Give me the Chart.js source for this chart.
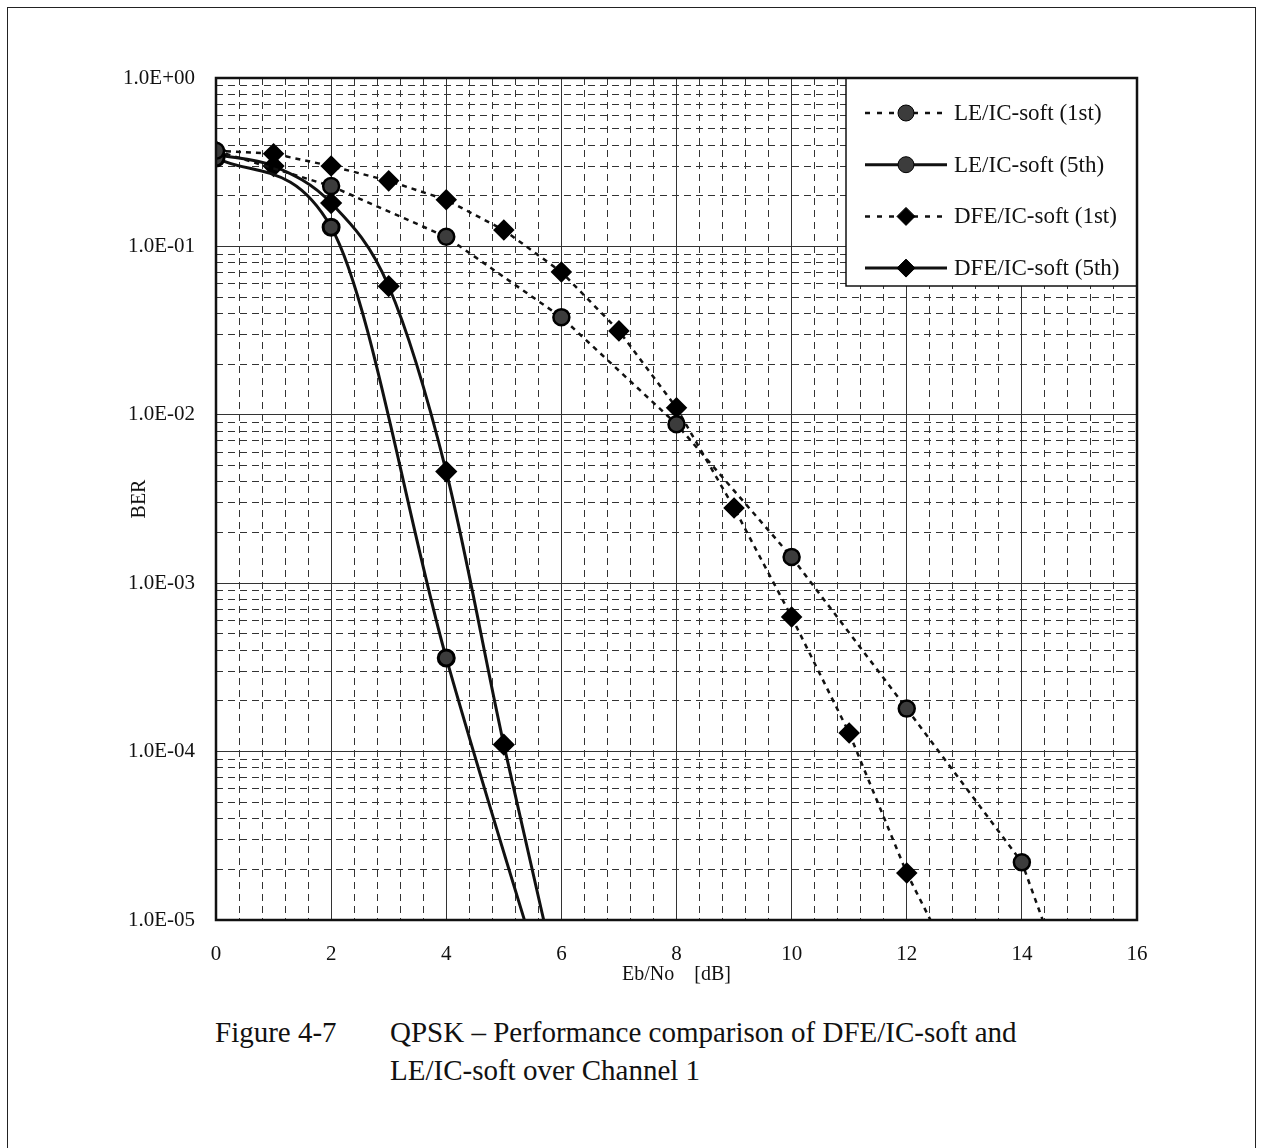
<!DOCTYPE html>
<html>
<head>
<meta charset="utf-8">
<script src="https://cdn.jsdelivr.net/npm/chart.js@4/dist/chart.umd.min.js"></script>
<style>
  html, body { margin: 0; padding: 0; background: #fff; }
  body { width: 1261px; height: 1148px; position: relative; overflow: hidden; font-family: "Liberation Serif", "Times New Roman", serif; }
  #frame { position: absolute; left: 7px; top: 7px; width: 1247px; height: 1300px; border: 1.5px solid #222; }
  #wrap { position: absolute; left: 0; top: 0; width: 1261px; height: 1000px; }
  .cap { position: absolute; font-size: 29px; line-height: 38px; color: #111; }
</style>
</head>
<body>
<div id="frame"></div>
<div id="wrap"><canvas id="berChart"></canvas></div>
<div class="cap" style="left:215px; top:1013px;">Figure 4-7</div>
<div class="cap" style="left:390px; top:1013px; width:780px;">QPSK – Performance comparison of DFE/IC-soft and<br>LE/IC-soft over Channel 1</div>
<script>
// values (Eb/No in dB, BER)
var xLE1 = [0, 2, 4, 6, 8, 10, 12, 14, 16];
var le1st = [0.37, 0.228, 0.114, 0.038, 0.0088, 1.43e-3, 1.8e-4, 2.2e-5, 2.8e-7];
var xLE5 = [0, 2, 4, 6];
var le5th = [0.335, 0.13, 3.6e-4, 1.9e-6];
var xDFE1 = [0, 1, 2, 3, 4, 5, 6, 7, 8, 9, 10, 11, 12, 13];
var dfe1st = [0.37, 0.355, 0.30, 0.245, 0.189, 0.125, 0.0705, 0.0315, 0.011, 0.0028, 6.3e-4, 1.29e-4, 1.9e-5, 4e-6];
var xDFE5 = [0, 1, 2, 3, 4, 5, 6];
var dfe5th = [0.35, 0.30, 0.181, 0.058, 4.6e-3, 1.1e-4, 3.5e-6];

var seriesLabels = ['LE/IC-soft (1st)', 'LE/IC-soft (5th)', 'DFE/IC-soft (1st)', 'DFE/IC-soft (5th)'];

var xMajorTicks = [0, 2, 4, 6, 8, 10, 12, 14, 16];
var xMinorStep = 0.4;
var yMajorTicks = [1e-5, 1e-4, 1e-3, 1e-2, 1e-1, 1];
var yTickLabels = ['1.0E-05', '1.0E-04', '1.0E-03', '1.0E-02', '1.0E-01', '1.0E+00'];
var yMinorMantissa = [2, 3, 4, 5, 6, 7, 8, 9];

var FONT = '"Liberation Serif", "Times New Roman", serif';

function pts(xs, ys) {
    return xs.map(function(x, i) { return {x: x, y: ys[i]}; });
}

var xMinorTicks = [];
for (var i = 1; i * xMinorStep < 16; i++) xMinorTicks.push(+(i * xMinorStep).toFixed(2));
var yMinorTicks = [];
yMajorTicks.slice(0, -1).forEach(function(d) {
    yMinorMantissa.forEach(function(m) { yMinorTicks.push(m * d); });
});

// legend box drawn inside the plot, top right
var legendBox = {
    id: 'legendBox',
    afterDatasetsDraw: function(chart) {
        var ctx = chart.ctx, a = chart.chartArea;
        var w = 291, h = 208, x = a.right - w, y = a.top;
        ctx.save();
        ctx.fillStyle = '#fff';
        ctx.fillRect(x, y, w, h);
        ctx.strokeStyle = '#111';
        ctx.lineWidth = 1.5;
        ctx.strokeRect(x, y, w, h);
        chart.data.datasets.forEach(function(ds, i) {
            var cy = y + 35 + i * 51.7;
            ctx.strokeStyle = ds.borderColor;
            ctx.lineWidth = ds.borderWidth;
            ctx.setLineDash(ds.borderDash.length ? [5, 7] : []);
            ctx.beginPath();
            ctx.moveTo(x + 19, cy);
            ctx.lineTo(x + 101, cy);
            ctx.stroke();
            ctx.setLineDash([]);
            var mx = x + 60, r = ds.pointRadius;
            ctx.fillStyle = ds.pointBackgroundColor;
            ctx.strokeStyle = ds.pointBorderColor;
            ctx.lineWidth = 1;
            ctx.beginPath();
            if (ds.pointStyle === 'circle') {
                ctx.arc(mx, cy, r, 0, Math.PI * 2);
            } else {
                ctx.moveTo(mx, cy - r);
                ctx.lineTo(mx + r, cy);
                ctx.lineTo(mx, cy + r);
                ctx.lineTo(mx - r, cy);
                ctx.closePath();
            }
            ctx.fill();
            ctx.stroke();
            ctx.fillStyle = '#111';
            ctx.font = '23px ' + FONT;
            ctx.textBaseline = 'middle';
            ctx.textAlign = 'left';
            ctx.fillText(ds.label, x + 108, cy + 1);
        });
        ctx.restore();
    },
    afterDraw: function(chart) {
        var ctx = chart.ctx, a = chart.chartArea;
        ctx.save();
        ctx.strokeStyle = '#111';
        ctx.lineWidth = 2.5;
        ctx.strokeRect(a.left, a.top, a.right - a.left, a.bottom - a.top);
        ctx.restore();
    }
};

function setTicks(list) {
    return function(scale) {
        scale.ticks = list.map(function(v) { return {value: v}; });
    };
}

document.addEventListener('DOMContentLoaded', function() {
    var ctx = document.getElementById('berChart').getContext('2d');
    new Chart(ctx, {
        type: 'line',
        data: {
            datasets: [{
                label: seriesLabels[0],
                data: pts(xLE1, le1st),
                borderColor: '#111',
                borderWidth: 2.5,
                borderDash: [5, 5],
                tension: 0,
                pointStyle: 'circle',
                pointRadius: 8,
                pointBackgroundColor: '#3c3c3c',
                pointBorderColor: '#000'
            }, {
                label: seriesLabels[1],
                data: pts(xLE5, le5th),
                borderColor: '#111',
                borderWidth: 3,
                borderDash: [],
                cubicInterpolationMode: 'monotone',
                pointStyle: 'circle',
                pointRadius: 8,
                pointBackgroundColor: '#3c3c3c',
                pointBorderColor: '#000'
            }, {
                label: seriesLabels[2],
                data: pts(xDFE1, dfe1st),
                borderColor: '#111',
                borderWidth: 2.5,
                borderDash: [5, 5],
                tension: 0,
                pointStyle: 'rectRot',
                pointRadius: 9,
                pointBackgroundColor: '#000',
                pointBorderColor: '#000'
            }, {
                label: seriesLabels[3],
                data: pts(xDFE5, dfe5th),
                borderColor: '#111',
                borderWidth: 3,
                borderDash: [],
                cubicInterpolationMode: 'monotone',
                pointStyle: 'rectRot',
                pointRadius: 9,
                pointBackgroundColor: '#000',
                pointBorderColor: '#000'
            }]
        },
        options: {
            responsive: true,
            maintainAspectRatio: false,
            animation: false,
            layout: { padding: { left: 0, top: 78, right: 124, bottom: 0 } },
            plugins: {
                legend: { display: false },
                tooltip: { enabled: false }
            },
            scales: {
                x: {
                    type: 'linear',
                    position: 'bottom',
                    min: 0,
                    max: 16,
                    afterBuildTicks: setTicks(xMajorTicks),
                    afterFit: function(s) { s.height = 80; },
                    grid: { color: '#333', lineWidth: 1, drawTicks: false },
                    border: { display: false },
                    ticks: { color: '#111', padding: 22, maxRotation: 0, autoSkip: false, font: { family: FONT, size: 21 } },
                    title: { display: true, text: 'Eb/No    [dB]', color: '#111', padding: { top: 0, bottom: 13 }, font: { family: FONT, size: 20 } }
                },
                xMinor: {
                    type: 'linear',
                    position: 'top',
                    min: 0,
                    max: 16,
                    afterBuildTicks: setTicks(xMinorTicks),
                    afterFit: function(s) { s.height = 0; },
                    grid: { color: '#333', lineWidth: 1, drawTicks: false },
                    border: { display: false, dash: [7, 5] },
                    ticks: { display: false }
                },
                y: {
                    type: 'logarithmic',
                    position: 'left',
                    min: 1e-5,
                    max: 1,
                    afterBuildTicks: setTicks(yMajorTicks),
                    afterFit: function(s) { s.width = 216; },
                    grid: { color: '#333', lineWidth: 1, drawTicks: false },
                    border: { display: false },
                    ticks: {
                        color: '#111',
                        padding: 21,
                        autoSkip: false,
                        font: { family: FONT, size: 21 },
                        callback: function(v) {
                            var k = yMajorTicks.findIndex(function(t) { return Math.abs(Math.log10(t) - Math.log10(v)) < 1e-6; });
                            return k >= 0 ? yTickLabels[k] : '';
                        }
                    },
                    title: { display: true, text: 'BER', color: '#111', padding: { top: 128, bottom: 0 }, font: { family: FONT, size: 20 } }
                },
                yMinor: {
                    type: 'logarithmic',
                    position: 'right',
                    min: 1e-5,
                    max: 1,
                    afterBuildTicks: setTicks(yMinorTicks),
                    afterFit: function(s) { s.width = 0; },
                    grid: { color: '#333', lineWidth: 1, drawTicks: false },
                    border: { display: false, dash: [7, 5] },
                    ticks: { display: false }
                }
            }
        },
        plugins: [legendBox]
    });
});
</script>
</body>
</html>
